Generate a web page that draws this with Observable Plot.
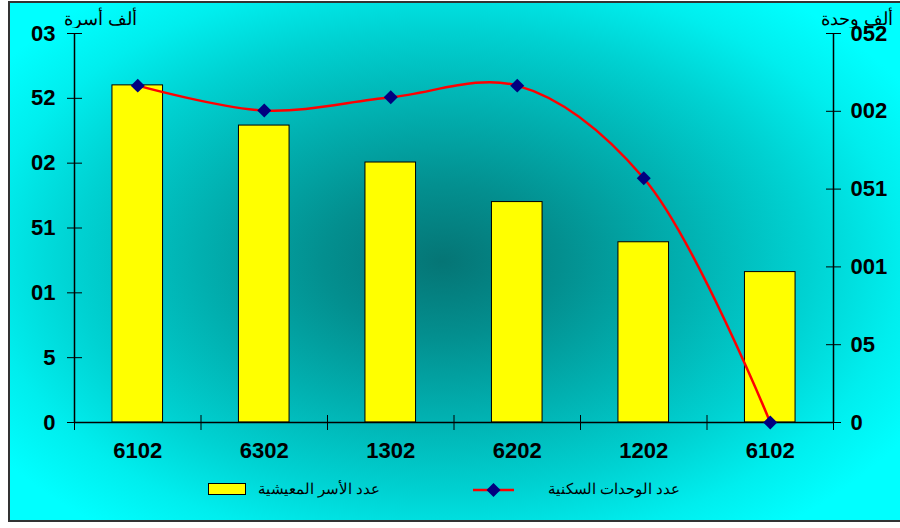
<!DOCTYPE html>
<html>
<head>
<meta charset="utf-8">
<script src="https://cdn.jsdelivr.net/npm/d3@7"></script>
<script src="https://cdn.jsdelivr.net/npm/@observablehq/plot@0.6"></script>
<style>
  html, body { margin: 0; padding: 0; background: #ffffff; }
  #wrap { position: relative; width: 900px; height: 528px; overflow: hidden; font-family: "Liberation Sans", Arial, sans-serif; }
  #bg { position: absolute; left: 8px; top: 1px; width: 900px; height: 517px;
        border-left: 2px solid #333; border-top: 2px solid #333; border-bottom: 2px solid #333;
        background: radial-gradient(ellipse 60% 66% at 48% 50%, #057575 0%, #038f8f 22%, #01b0b0 45%, #00d2d2 68%, #00eeee 85%, #00ffff 100%); }
  #chart { position: absolute; left: 0; top: 0; }
  #chart svg text { font-weight: bold !important; font-size: 22px !important; font-family: "Liberation Sans", Arial, sans-serif !important; }
  .unit { position: absolute; top: 4px; height: 24px; overflow: hidden; font-size: 18px; direction: rtl; color: #000; white-space: nowrap; line-height: 30px; }
  .leg { position: absolute; top: 479px; font-size: 15px; color: #000; direction: rtl; white-space: nowrap; line-height: 20px; }
</style>
</head>
<body>
<div id="wrap">
  <div id="bg"></div>
  <div id="chart"></div>
  <div class="unit" id="unitL" style="right: 763px;"></div>
  <div class="unit" id="unitR" style="right: 7px;"></div>
  <div id="legend"></div>
</div>
<script>
// ---- data ----
const categories = ["6102", "6302", "1302", "6202", "1202", "6102"];   // year labels as displayed
const households = [26.0, 22.9, 20.05, 17.0, 13.9, 11.6];             // left axis (thousand households)
const dwellings = [216.5, 200.5, 209, 216.5, 157, 0];                 // right axis (thousand units)
const leftTicks = [0, 5, 10, 15, 20, 25, 30];
const leftTickLabels = ["0", "5", "01", "51", "02", "52", "03"];
const rightTicks = [0, 50, 100, 150, 200, 250];
const rightTickLabels = ["0", "05", "001", "051", "002", "052"];
const leftUnit = "ألف أسرة";
const rightUnit = "ألف وحدة";
const seriesNames = ["عدد الأسر المعيشية", "عدد الوحدات السكنية"];

const leftMax = 30, rightMax = 250;
const toLeft = v => v * leftMax / rightMax;

const rows = categories.map((c, i) => ({i, cat: c, h: households[i], d: toLeft(dwellings[i])}));
const boundaries = d3.range(categories.length + 1).map(k => k - 0.5);

const chart = Plot.plot({
  width: 900,
  height: 528,
  marginLeft: 74,
  marginRight: 67,
  marginTop: 33,
  marginBottom: 106,
  style: {background: "transparent", fontFamily: "'Liberation Sans', Arial, sans-serif", fontSize: "22px", fontWeight: "bold"},
  x: {domain: [-0.5, categories.length - 0.5]},
  y: {domain: [0, leftMax]},
  marks: [
    Plot.rectY(rows, {x1: d => d.i - 0.2, x2: d => d.i + 0.2, y1: 0, y2: "h", fill: "#ffff00", stroke: "#000", strokeWidth: 1}),
    // axis lines
    Plot.ruleX([-0.5, categories.length - 0.5], {y1: 0, y2: leftMax, stroke: "#000", strokeWidth: 1.5}),
    Plot.ruleY([0], {stroke: "#000", strokeWidth: 1.5}),
    // left axis
    Plot.axisY({anchor: "left", ticks: leftTicks, tickFormat: d => leftTickLabels[leftTicks.indexOf(d)],
      tickSize: 15, dx: 8, tickPadding: 12, stroke: "#000", color: "#000", label: null}),
    // right axis
    Plot.axisY({anchor: "right", ticks: rightTicks.map(toLeft), tickFormat: d => rightTickLabels[rightTicks.map(toLeft).indexOf(d)],
      tickSize: 15, dx: -8, tickPadding: 10, stroke: "#000", color: "#000", label: null}),
    // x axis ticks at boundaries
    Plot.axisX({ticks: boundaries, tickFormat: () => "", tickSize: 15, dy: -7, stroke: "#000", label: null}),
    // x axis labels
    Plot.axisX({ticks: d3.range(categories.length), tickFormat: d => categories[d], tickSize: 0, tickPadding: 20,
      color: "#000", label: null}),
    // line series
    Plot.line(rows, {x: "i", y: "d", stroke: "#ff0000", strokeWidth: 2.5, curve: "catmull-rom"}),
    Plot.dot(rows, {x: "i", y: "d", symbol: "diamond2", r: 6.3, fill: "#000080", stroke: "none"})
  ]
});
document.getElementById("chart").appendChild(chart);

document.getElementById("unitL").textContent = leftUnit;
document.getElementById("unitR").textContent = rightUnit;

// legend
const legend = document.getElementById("legend");
legend.innerHTML = `
  <div style="position:absolute; left:208px; top:483px; width:36px; height:10px; background:#ffff00; border:1px solid #000;"></div>
  <div class="leg" style="right:${900-380}px;">${seriesNames[0]}</div>
  <svg style="position:absolute; left:472px; top:480px;" width="44" height="20">
    <line x1="1" y1="10" x2="42" y2="10" stroke="#ff0000" stroke-width="2.5"/>
    <path d="M21.5,3 L28.5,10 L21.5,17 L14.5,10 Z" fill="#000080"/>
  </svg>
  <div class="leg" style="right:${900-680}px;">${seriesNames[1]}</div>
`;
</script>
</body>
</html>
